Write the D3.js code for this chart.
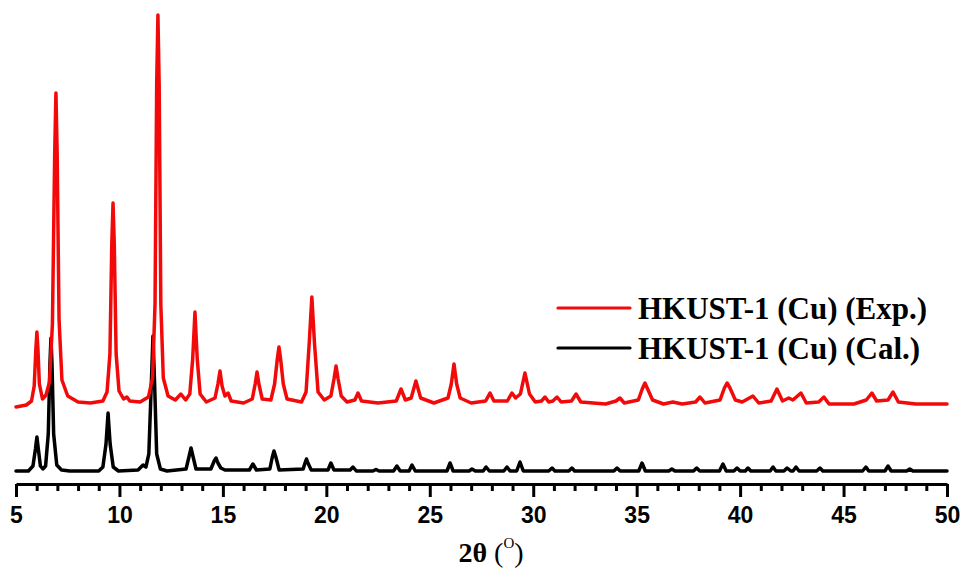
<!DOCTYPE html>
<html>
<head>
<meta charset="utf-8">
<script src="https://cdn.jsdelivr.net/npm/d3@7"></script>
<style>
  html, body { margin: 0; padding: 0; background: #fff; }
  svg { display: block; }
</style>
</head>
<body>
<svg id="chart" width="964" height="570"></svg>
<script>
// Powder XRD patterns of HKUST-1 (Cu): measured vs. calculated, stacked with an offset.
// Each series is a list of [2θ (deg), intensity (a.u.)] vertices along the trace.

const seriesNames = ["HKUST-1 (Cu) (Exp.)", "HKUST-1 (Cu) (Cal.)"];
const seriesColors = ["#f20a0a", "#000000"];

const expPattern = [
  [5.0, 77], [5.5, 79], [5.75, 83], [5.88, 98], [5.96, 135], [6.01, 152], [6.06, 135], [6.13, 100], [6.28, 85],
  [6.45, 89], [6.62, 102], [6.76, 160], [6.87, 330], [6.93, 391], [6.99, 330], [7.08, 165], [7.22, 104], [7.5, 88],
  [8.0, 82], [8.6, 81], [9.2, 83], [9.4, 92], [9.54, 130], [9.63, 240], [9.69, 281], [9.75, 240], [9.84, 130],
  [9.98, 93], [10.2, 85], [10.36, 87], [10.5, 83], [11.0, 82], [11.4, 87], [11.6, 106], [11.72, 180], [11.80, 400],
  [11.86, 469], [11.92, 400], [12.0, 180], [12.12, 106], [12.35, 88], [12.7, 84], [12.97, 90], [13.2, 84],
  [13.4, 90], [13.54, 125], [13.65, 172], [13.76, 125], [13.9, 90], [14.2, 82], [14.62, 86], [14.76, 100],
  [14.86, 113], [14.96, 98], [15.1, 88], [15.25, 91], [15.4, 83], [16.0, 81], [16.42, 85], [16.56, 100],
  [16.65, 112], [16.74, 100], [16.9, 85], [17.32, 84], [17.5, 100], [17.63, 125], [17.71, 137], [17.79, 125],
  [17.92, 100], [18.1, 85], [18.8, 82], [19.02, 92], [19.17, 140], [19.30, 187], [19.43, 140], [19.6, 92],
  [19.9, 84], [20.22, 88], [20.37, 105], [20.47, 118], [20.57, 105], [20.72, 88], [21.0, 82], [21.38, 84],
  [21.53, 91], [21.7, 83], [22.5, 81], [23.38, 83], [23.61, 95], [23.82, 84], [24.1, 86], [24.33, 103],
  [24.56, 86], [25.2, 81], [25.88, 86], [26.04, 100], [26.17, 120], [26.3, 100], [26.47, 86], [27.0, 81],
  [27.7, 83], [27.91, 91], [28.1, 83], [28.75, 83], [28.97, 91], [29.15, 86], [29.38, 90], [29.6, 111],
  [29.82, 90], [30.1, 82], [30.4, 83], [30.57, 87], [30.75, 82], [30.95, 83], [31.15, 87], [31.35, 82],
  [31.85, 83], [32.07, 90], [32.3, 82], [33.5, 80], [34.0, 83], [34.19, 86], [34.4, 81], [35.08, 84],
  [35.27, 95], [35.4, 101], [35.53, 95], [35.77, 84], [36.3, 80], [36.75, 82], [37.2, 80], [37.85, 82],
  [38.06, 87], [38.3, 81], [39.03, 84], [39.24, 96], [39.37, 101], [39.51, 96], [39.77, 84], [40.1, 82],
  [40.62, 88], [40.9, 81], [41.5, 83], [41.78, 95], [42.05, 83], [42.35, 86], [42.55, 84], [42.94, 91],
  [43.2, 81], [43.8, 82], [44.05, 87], [44.3, 80], [45.5, 80], [46.1, 84], [46.37, 91], [46.6, 83],
  [47.15, 84], [47.39, 92], [47.65, 82], [48.5, 80], [49.2, 80], [50.0, 80]
];

const calPattern = [
  [5.0, 13], [5.6, 13], [5.82, 18], [5.94, 35], [6.01, 47], [6.08, 35], [6.18, 18], [6.3, 15], [6.43, 18],
  [6.56, 50], [6.64, 120], [6.69, 146], [6.74, 120], [6.82, 50], [6.97, 19], [7.2, 14], [7.6, 13], [9.0, 13],
  [9.2, 17], [9.35, 40], [9.45, 71], [9.55, 40], [9.7, 17], [9.95, 13], [10.9, 14], [11.14, 19], [11.28, 17],
  [11.42, 30], [11.54, 100], [11.62, 148], [11.70, 100], [11.8, 30], [11.98, 15], [12.3, 13], [13.22, 15],
  [13.37, 28], [13.46, 36], [13.55, 28], [13.7, 15], [14.42, 15], [14.58, 23], [14.67, 26], [14.76, 21],
  [14.9, 16], [15.1, 14], [16.28, 14], [16.45, 20], [16.62, 14], [17.27, 15], [17.39, 27], [17.47, 33],
  [17.56, 27], [17.72, 14], [18.88, 15], [18.97, 21], [19.04, 25], [19.11, 21], [19.27, 14], [20.08, 14],
  [20.22, 21], [20.37, 14], [21.15, 14], [21.29, 17], [21.45, 13], [22.25, 13], [22.4, 14.5], [22.55, 13],
  [23.25, 13], [23.41, 18], [23.57, 13], [24.0, 13], [24.14, 19], [24.3, 13], [25.83, 13], [25.98, 21],
  [26.13, 13], [26.9, 13], [27.04, 15], [27.2, 13], [27.58, 13], [27.72, 17], [27.88, 13], [28.58, 13],
  [28.73, 17], [28.88, 13], [29.2, 13], [29.36, 22], [29.52, 13], [30.75, 13], [30.91, 16], [31.05, 13],
  [31.72, 13], [31.87, 16], [32.0, 13], [33.9, 13], [34.05, 16], [34.2, 13], [35.1, 13], [35.26, 21],
  [35.42, 13], [36.55, 13], [36.7, 15], [36.85, 13], [37.75, 13], [37.9, 16], [38.05, 13], [39.0, 13],
  [39.17, 20], [39.33, 13], [39.7, 13], [39.85, 16], [40.0, 13], [40.25, 13], [40.38, 16], [40.52, 13],
  [41.45, 13], [41.59, 17], [41.73, 13], [42.12, 13], [42.27, 16], [42.45, 13], [42.56, 13], [42.7, 17],
  [42.85, 13], [43.7, 13], [43.86, 16], [44.0, 13], [45.92, 13], [46.08, 17], [46.22, 13], [47.0, 13],
  [47.15, 18], [47.3, 13], [48.05, 13], [48.2, 15], [48.35, 13], [50.0, 13]
];

const majorTicks = [5, 10, 15, 20, 25, 30, 35, 40, 45, 50];
const minorTicks = d3.range(5, 51).filter(v => v % 5 !== 0);

const svg = d3.select("#chart");
const width = 964, height = 570;
svg.append("rect").attr("width", width).attr("height", height).attr("fill", "#fff");

const axisY = 484;
const x = d3.scaleLinear().domain([5, 50]).range([16, 947]);
const y = d3.scaleLinear().domain([0, 470]).range([axisY, 14]);

const line = d3.line()
  .x(d => x(d[0]))
  .y(d => y(d[1]));

const patterns = [expPattern, calPattern];
// draw calculated first, measured on top
[1, 0].forEach(i => {
  svg.append("path")
    .datum(patterns[i])
    .attr("fill", "none")
    .attr("stroke", seriesColors[i])
    .attr("stroke-width", 3.5)
    .attr("stroke-linejoin", "round")
    .attr("stroke-linecap", "round")
    .attr("d", line);
});

// x axis: major ticks with labels, minor ticks without
const axisG = svg.append("g").attr("transform", `translate(0,${axisY})`);
axisG.call(d3.axisBottom(x).tickValues(majorTicks).tickSizeInner(13).tickSizeOuter(0).tickPadding(10)
  .tickFormat(d3.format("d")));
axisG.select(".domain").attr("stroke", "#000").attr("stroke-width", 3.2);
axisG.selectAll(".tick line").attr("stroke", "#000").attr("stroke-width", 3);
axisG.selectAll(".tick text")
  .attr("fill", "#000")
  .style("font-family", "'Liberation Sans Narrow', 'Arial Narrow', 'Liberation Sans', sans-serif")
  .style("font-weight", "bold")
  .style("font-size", "23px");

const minorG = svg.append("g").attr("transform", `translate(0,${axisY})`);
minorG.call(d3.axisBottom(x).tickValues(minorTicks).tickSizeInner(7).tickSizeOuter(0).tickFormat(""));
minorG.select(".domain").remove();
minorG.selectAll(".tick line").attr("stroke", "#000").attr("stroke-width", 3);

// axis title: 2θ (°)
const title = svg.append("text")
  .attr("x", 491).attr("y", 562)
  .attr("text-anchor", "middle")
  .style("font-family", "'Liberation Serif', 'Times New Roman', serif")
  .style("font-size", "28px")
  .attr("fill", "#000");
title.append("tspan").style("font-weight", "bold").text("2θ ");
title.append("tspan").text("(");
title.append("tspan").attr("dy", -14).style("font-size", "15px").text("O");
title.append("tspan").attr("dy", 14).text(")");

// legend
const legend = svg.append("g");
seriesNames.forEach((name, i) => {
  const ly = 308 + i * 40;
  legend.append("line")
    .attr("x1", 558).attr("x2", 630).attr("y1", ly).attr("y2", ly)
    .attr("stroke", seriesColors[i]).attr("stroke-width", 3.2).attr("stroke-linecap", "round");
  legend.append("text")
    .attr("x", 638).attr("y", ly + 11)
    .style("font-family", "'Liberation Serif', 'Times New Roman', serif")
    .style("font-weight", "bold")
    .style("font-size", "31px")
    .attr("fill", "#000")
    .text(name);
});
</script>
</body>
</html>
